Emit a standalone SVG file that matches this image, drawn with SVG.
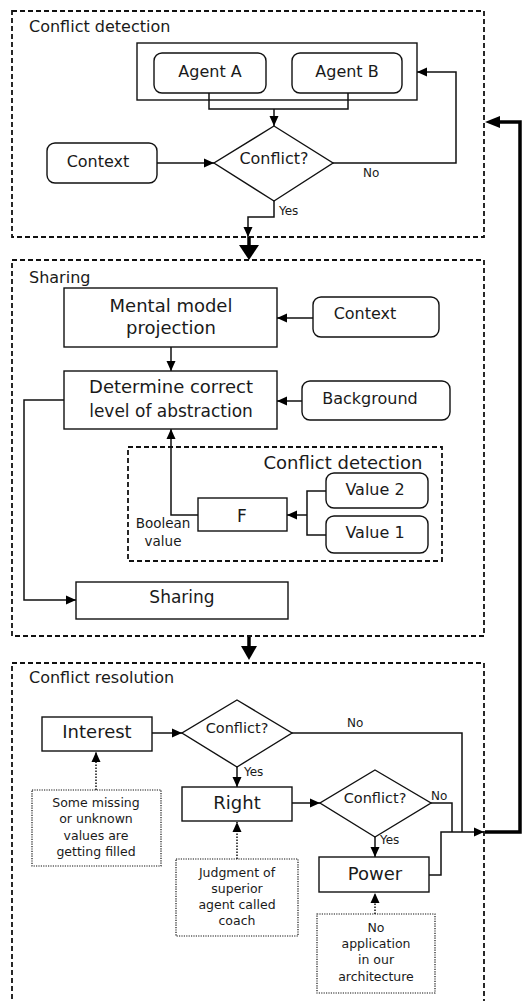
<svg xmlns="http://www.w3.org/2000/svg" width="522" height="1001" viewBox="0 0 522 1001">
<defs>
<style>
text{font-family:"DejaVu Sans","Open Sans",sans-serif;fill:#1a1a1a;text-anchor:middle}
.sec{fill:none;stroke:#111;stroke-width:1.8;stroke-dasharray:5,3}
.box{fill:#fff;stroke:#111;stroke-width:1.4}
.frame{fill:none;stroke:#111;stroke-width:1.4}
.note{fill:#fff;stroke:#111;stroke-width:1.2;stroke-dasharray:1.2,1.2}
.ln{fill:none;stroke:#111;stroke-width:1.5}
.dot{fill:none;stroke:#111;stroke-width:1.5;stroke-dasharray:1.5,1.5}
.thick{fill:none;stroke:#000;stroke-width:3.5}
.t16{font-size:16px}
.t17{font-size:17px}
.t18{font-size:18px}
.t12{font-size:12.5px}
.t13{font-size:13.5px}
.lbl{font-size:12px;text-anchor:start}
.title{font-size:16px;text-anchor:start}
</style>
<marker id="ah" markerUnits="userSpaceOnUse" markerWidth="10" markerHeight="10" refX="10" refY="5" orient="auto">
<path d="M0,0.5 L10,5 L0,9.5 z" fill="#000"/>
</marker>
</defs>

<g id="sec-detection">
<rect class="sec" x="12" y="11" width="472" height="226"/>
<text class="title" x="29" y="32">Conflict detection</text>
</g>
<g id="sec-sharing">
<rect class="sec" x="12" y="260" width="472" height="376"/>
<text class="title" x="29" y="283">Sharing</text>
</g>
<g id="sec-resolution">
<rect class="sec" x="12" y="663" width="472" height="400"/>
<text class="title" x="29" y="683">Conflict resolution</text>
</g>
<g id="inner-detection">
<rect class="sec" x="128" y="447" width="314" height="114"/>
<text class="t18" x="343" y="469">Conflict detection</text>
</g>

<g id="connectors">
<!-- section 1 -->
<path class="ln" d="M209,93 V109 H348 V93"/>
<path class="ln" d="M274,109 V126" marker-end="url(#ah)"/>
<path class="ln" d="M157,163 H214" marker-end="url(#ah)"/>
<path class="ln" d="M333,163 H456 V72 H417" marker-end="url(#ah)"/>
<path class="ln" d="M274,201 V217 H248 V237" marker-end="url(#ah)"/>
<!-- thick between sections -->
<path class="thick" d="M249,237 V246"/>
<path d="M239,245 L259,245 L249,260 z" fill="#000"/>
<path class="thick" d="M249,637 V648"/>
<path d="M241,646 L257,646 L249,660 z" fill="#000"/>
<!-- section 2 -->
<path class="ln" d="M313,318 H277" marker-end="url(#ah)"/>
<path class="ln" d="M171,347 V371" marker-end="url(#ah)"/>
<path class="ln" d="M302,401 H277" marker-end="url(#ah)"/>
<path class="ln" d="M64,400 H24 V600 H76" marker-end="url(#ah)"/>
<path class="ln" d="M326,491 H307 V535 H326"/>
<path class="ln" d="M307,515 H287" marker-end="url(#ah)"/>
<path class="ln" d="M198,515 H171 V429" marker-end="url(#ah)"/>
<!-- section 3 -->
<path class="ln" d="M152,733 H182" marker-end="url(#ah)"/>
<path class="ln" d="M292,733 H462 V832"/>
<path class="ln" d="M237,767 V787" marker-end="url(#ah)"/>
<path class="ln" d="M292,803 H320" marker-end="url(#ah)"/>
<path class="ln" d="M431,803 H452 V832"/>
<path class="ln" d="M375,837 V857" marker-end="url(#ah)"/>
<path class="ln" d="M429,875 H441 V832 H484" marker-end="url(#ah)"/>
<path class="dot" d="M96,790 V752" marker-end="url(#ah)"/>
<path class="dot" d="M237,859 V822" marker-end="url(#ah)"/>
<path class="dot" d="M375,914 V893" marker-end="url(#ah)"/>
<!-- feedback loop -->
<path class="thick" d="M485,832 H520 V122 H498"/>
<path d="M485,122 L500,116 L500,128 z" fill="#000"/>
</g>

<g id="agents">
<rect class="frame" x="137" y="43" width="280" height="57"/>
</g>
<g id="agent-a">
<rect class="box" x="154" y="53" width="112" height="40" rx="8"/>
<text class="t16" x="210" y="77">Agent A</text>
</g>
<g id="agent-b">
<rect class="box" x="292" y="53" width="110" height="40" rx="8"/>
<text class="t16" x="347" y="77">Agent B</text>
</g>
<g id="context-1">
<rect class="box" x="47" y="143" width="110" height="40" rx="8"/>
<text class="t16" x="98" y="167">Context</text>
</g>
<g id="conflict-1">
<path class="box" d="M274,126 L333,163 L274,201 L214,163 z"/>
<text class="t16" x="274" y="164">Conflict?</text>
<text class="lbl" x="363" y="177">No</text>
<text class="lbl" x="279" y="215">Yes</text>
</g>

<g id="mental-model">
<rect class="box" x="64" y="288" width="213" height="59"/>
<text class="t18" x="171" y="312">Mental model</text>
<text class="t18" x="171" y="334">projection</text>
</g>
<g id="context-2">
<rect class="box" x="313" y="297" width="126" height="40" rx="8"/>
<text class="t16" x="365" y="319">Context</text>
</g>
<g id="determine">
<rect class="box" x="64" y="371" width="213" height="58"/>
<text class="t18" x="171" y="393">Determine correct</text>
<text class="t17" x="171" y="417">level of abstraction</text>
</g>
<g id="background">
<rect class="box" x="302" y="381" width="148" height="39" rx="8"/>
<text class="t16" x="370" y="404">Background</text>
</g>
<g id="value-2">
<rect class="box" x="326" y="473" width="102" height="35" rx="8"/>
<text class="t16" x="375" y="495">Value 2</text>
</g>
<g id="value-1">
<rect class="box" x="326" y="516" width="102" height="37" rx="8"/>
<text class="t16" x="375" y="538">Value 1</text>
</g>
<g id="f">
<rect class="box" x="198" y="498" width="89" height="33"/>
<text class="t17" x="242" y="522">F</text>
</g>
<g id="boolean-label">
<text class="t13" x="163" y="528">Boolean</text>
<text class="t13" x="163" y="546">value</text>
</g>
<g id="sharing">
<rect class="box" x="76" y="582" width="212" height="37"/>
<text class="t17" x="182" y="603">Sharing</text>
</g>

<g id="interest">
<rect class="box" x="42" y="717" width="110" height="34"/>
<text class="t18" x="97" y="738">Interest</text>
</g>
<g id="conflict-2">
<path class="box" d="M237,700 L292,733 L237,767 L182,733 z"/>
<text style="font-size:14.5px" x="237" y="733">Conflict?</text>
<text class="lbl" x="347" y="727">No</text>
<text class="lbl" x="244" y="776">Yes</text>
</g>
<g id="right">
<rect class="box" x="182" y="787" width="110" height="34"/>
<text class="t18" x="237" y="809">Right</text>
</g>
<g id="conflict-3">
<path class="box" d="M375,770 L431,803 L375,837 L320,803 z"/>
<text style="font-size:14.5px" x="375" y="803">Conflict?</text>
<text class="lbl" x="431" y="800">No</text>
<text class="lbl" x="380" y="844">Yes</text>
</g>
<g id="power">
<rect class="box" x="319" y="857" width="110" height="35"/>
<text class="t18" x="375" y="880">Power</text>
</g>
<g id="note-interest">
<rect class="note" x="32" y="790" width="129" height="76"/>
<text class="t12" x="96" y="807">Some missing</text>
<text class="t12" x="96" y="823">or unknown</text>
<text class="t12" x="96" y="840">values are</text>
<text class="t12" x="96" y="856">getting filled</text>
</g>
<g id="note-right">
<rect class="note" x="176" y="859" width="122" height="77"/>
<text class="t12" x="237" y="877">Judgment of</text>
<text class="t12" x="237" y="893">superior</text>
<text class="t12" x="237" y="909">agent called</text>
<text class="t12" x="237" y="925">coach</text>
</g>
<g id="note-power">
<rect class="note" x="317" y="914" width="118" height="79"/>
<text class="t12" x="376" y="932">No</text>
<text class="t12" x="376" y="948">application</text>
<text class="t12" x="376" y="964">in our</text>
<text class="t12" x="376" y="981">architecture</text>
</g>
</svg>
